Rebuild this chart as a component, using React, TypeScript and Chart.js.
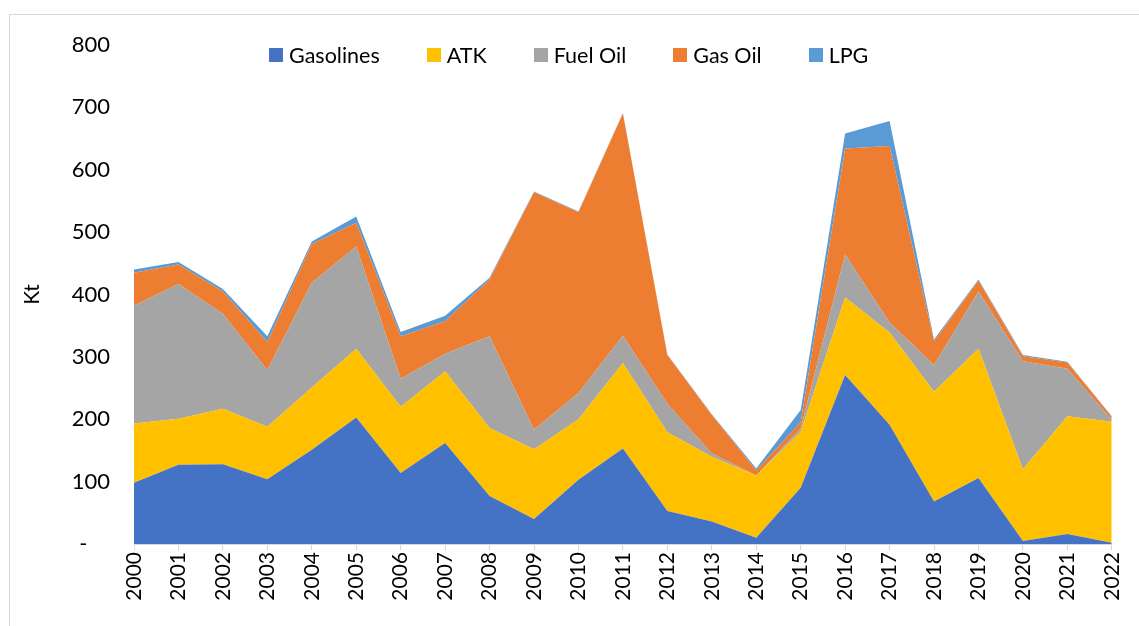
import React, { useEffect, useRef } from "react";
import { Chart, registerables } from "chart.js";

Chart.register(...registerables);

const years = ["2000","2001","2002","2003","2004","2005","2006","2007","2008","2009","2010","2011","2012","2013","2014","2015","2016","2017","2018","2019","2020","2021","2022"];
const gasolines = [98,127,128,104,151,203,114,162,77,40,103,153,53,36,10,90,271,191,68,106,5,16,2];
const atk = [95,74,89,84,100,110,106,115,109,112,97,137,126,104,100,90,124,148,176,207,115,189,194];
const fuelOil = [189,216,152,91,168,164,45,28,147,31,42,44,46,5,0,5,69,16,43,92,173,76,3];
const gasOil = [53,31,36,45,62,38,68,52,91,381,290,356,78,62,8,10,170,283,38,17,8,10,5];
const lpg = [5,4,4,9,4,10,7,9,3,1,1,1,1,1,3,20,24,40,3,2,2,1,1];

const seriesNames = ["Gasolines", "ATK", "Fuel Oil", "Gas Oil", "LPG"];
const seriesColors = ["#4472C4", "#FFC000", "#A5A5A5", "#ED7D31", "#5B9BD5"];
const seriesData = [gasolines, atk, fuelOil, gasOil, lpg];

const FONT = "Lato, 'Open Sans', sans-serif";

export default function App() {
  const canvasRef = useRef<HTMLCanvasElement | null>(null);

  useEffect(() => {
    if (!canvasRef.current) return;
    const chart = new Chart(canvasRef.current, {
      type: "line",
      data: {
        labels: years,
        datasets: seriesData.map((d, i) => ({
          label: seriesNames[i],
          data: d,
          backgroundColor: seriesColors[i],
          borderColor: seriesColors[i],
          borderWidth: 0,
          pointRadius: 0,
          pointHoverRadius: 0,
          tension: 0,
          fill: i === 0 ? "origin" : "-1",
        })),
      },
      options: {
        animation: false,
        responsive: false,
        maintainAspectRatio: false,
        layout: { padding: { left: 20, right: 22, top: 45, bottom: 0 } },
        plugins: {
          legend: { display: false },
          tooltip: { enabled: false },
        },
        scales: {
          x: {
            type: "category",
            offset: false,
            grid: {
              display: true,
              drawOnChartArea: false,
              drawTicks: true,
              tickLength: 6,
              color: "#d9d9d9",
            },
            border: { display: true, color: "#d9d9d9", width: 1 },
            ticks: {
              autoSkip: false,
              maxRotation: 90,
              minRotation: 90,
              padding: 2,
              color: "#000",
              font: { family: FONT, size: 21 },
            },
            afterFit: (scale: any) => {
              scale.height = 626 - 544;
            },
          },
          y: {
            stacked: true,
            min: 0,
            max: 800,
            grid: { display: false, drawTicks: false },
            border: { display: false },
            ticks: {
              stepSize: 100,
              padding: 24,
              color: "#000",
              font: { family: FONT, size: 22 },
              callback: (v: any) => (Number(v) === 0 ? "-    " : String(v)),
            },
            title: {
              display: true,
              text: "Kt",
              color: "#000",
              font: { family: FONT, size: 21 },
              padding: 0,
            },
            afterFit: (scale: any) => {
              scale.width = 134 - 20;
            },
          },
        },
      },
    });
    return () => chart.destroy();
  }, []);

  return (
    <div
      style={{
        position: "fixed",
        left: 0,
        top: 0,
        width: 1139,
        height: 626,
        overflow: "hidden",
        background: "#fff",
      }}
    >
      <div
        style={{
          position: "absolute",
          left: 9,
          top: 14,
          width: 1200,
          height: 700,
          border: "1px solid #d9d9d9",
        }}
      />
      <canvas
        ref={canvasRef}
        width={1139}
        height={626}
        style={{ position: "absolute", left: 0, top: 0, width: 1139, height: 626 }}
      />
      <div
        style={{
          position: "absolute",
          left: 269,
          top: 42,
          display: "flex",
          alignItems: "center",
          gap: 47,
          fontFamily: FONT,
          fontSize: 21.5,
          color: "#000",
          whiteSpace: "nowrap",
        }}
      >
        {seriesNames.map((n, i) => (
          <div key={n} style={{ display: "flex", alignItems: "center", gap: 6 }}>
            <span style={{ display: "inline-block", width: 14, height: 14, background: seriesColors[i] }} />
            <span>{n}</span>
          </div>
        ))}
      </div>
    </div>
  );
}
